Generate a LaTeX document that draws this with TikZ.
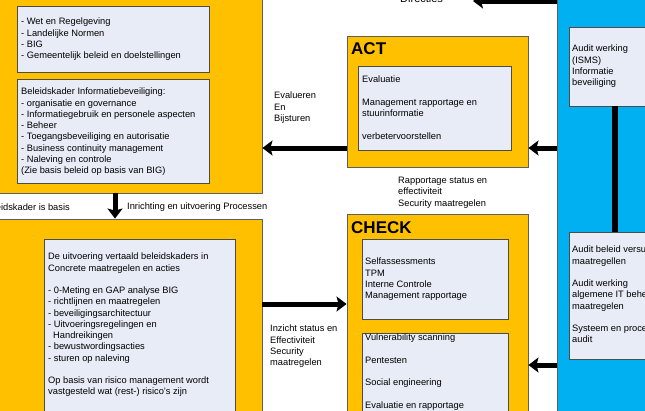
\documentclass[tikz,border=0pt]{standalone}
\usepackage{fontspec}
\setmainfont{Liberation Sans}
\usetikzlibrary{arrows.meta,fit}
\definecolor{orng}{RGB}{255,192,0}
\definecolor{skyb}{RGB}{0,176,240}
\definecolor{pale}{RGB}{231,236,246}
\definecolor{edge}{RGB}{95,95,95}
\begin{document}
\begin{tikzpicture}[x=1pt,y=-1pt,
  outerbox/.style={draw=edge, fill=orng, line width=0.9pt, inner sep=0pt},
  bluebox/.style={draw=edge, fill=skyb, line width=0.9pt, inner sep=0pt},
  inbox/.style={draw=edge!80!black, fill=pale, line width=0.9pt, inner sep=0pt},
  txt/.style={anchor=north west, align=left, inner sep=0pt, font=\fontsize{9.3}{11.25}\selectfont},
  lbl/.style={inner sep=0pt, font=\fontsize{9.3}{11.25}\selectfont},
  ttl/.style={anchor=base west, inner sep=0pt, font=\bfseries\fontsize{17}{20}\selectfont},
  bigarrow/.style={line width=5pt, -{Stealth[length=10pt,width=15pt,inset=2pt]}}
]
\useasboundingbox (0,0) rectangle (645,410);
\clip (0,0) rectangle (645,410);

% outer boxes
\node[outerbox, fit={(-5,-5) (262,193)}] (tl) {};
\node[outerbox, fit={(-5,219) (262,420)}] (bl) {};
\node[outerbox, fit={(347,36) (528,167)}] (act) {};
\node[outerbox, fit={(347,214) (528,420)}] (check) {};
\node[bluebox, fit={(557,-5) (660,420)}] (audit) {};

% inner boxes
\node[inbox, fit={(17,6) (209,72)}] (tl1) {};
\node[inbox, fit={(17,79) (209,183)}] (tl2) {};
\node[inbox, fit={(44,239) (235,420)}] (bl1) {};
\node[inbox, fit={(358,66) (511,150)}] (act1) {};
\node[inbox, fit={(362,239) (508,319)}] (chk1) {};
\node[inbox, fit={(362,333) (508,420)}] (chk2) {};
\node[inbox, fit={(569,27) (660,106)}] (au1) {};
\node[inbox, fit={(569,232) (660,359)}] (au2) {};

% titles
\node[ttl] (acttitle) at (351,54) {ACT};
\node[ttl] (checktitle) at (351,233) {CHECK};

% box texts
\node[txt] (t1) at (21,18) {- Wet en Regelgeving\\- Landelijke Normen\\- BIG\\- Gemeentelijk beleid en doelstellingen};
\node[txt] (t2) at (21,88) {Beleidskader Informatiebeveiliging:\\- organisatie en governance\\- Informatiegebruik en personele aspecten\\- Beheer\\- Toegangsbeveiliging en autorisatie\\- Business continuity management\\- Naleving en controle\\(Zie basis beleid op basis van BIG)};
\node[txt] (t3) at (48,253) {De uitvoering vertaald beleidskaders in\\Concrete maatregelen en acties\\\mbox{}\\- 0-Meting en GAP analyse BIG\\- richtlijnen en maatregelen\\- beveiligingsarchitectuur\\- Uitvoeringsregelingen en\\\hspace*{5pt}Handreikingen\\- bewustwordingsacties\\- sturen op naleving\\\mbox{}\\Op basis van risico management wordt\\vastgesteld wat (rest-) risico's zijn};
\node[txt] (t4) at (362,76) {Evaluatie\\\mbox{}\\Management rapportage en\\stuurinformatie\\\mbox{}\\verbetervoorstellen};
\node[txt] (t5) at (365,258) {Selfassessments\\TPM\\Interne Controle\\Management rapportage};
\node[txt] (t6) at (365,334) {Vulnerability scanning\\\mbox{}\\Pentesten\\\mbox{}\\Social engineering\\\mbox{}\\Evaluatie en rapportage};
\node[txt] (t7) at (572,45) {Audit werking\\(ISMS)\\Informatie\\beveiliging};
\node[txt] (t8) at (572,246) {Audit beleid versus\\maatregellen\\\mbox{}\\Audit werking\\algemene IT beheer\\maatregelen\\\mbox{}\\Systeem en proces\\audit};

% connector labels
\node[txt] (l1) at (274,92) {Evalueren\\En\\Bijsturen};
\node[txt] (l2) at (398,177) {Rapportage status en\\effectiviteit\\Security maatregelen};
\node[txt] (l3) at (270,325) {Inzicht status en\\Effectiviteit\\Security\\maatregelen};
\node[lbl, anchor=base east] (l4) at (70,210) {Beleidskader is basis};
\node[lbl, anchor=base west] (l5) at (127,209) {Inrichting en uitvoering Processen};
\node[lbl, anchor=base west, font=\fontsize{11}{13}\selectfont] (l6) at (400,2) {Directies};

% connectors
\draw[bigarrow] (act.west |- 0,148) -- (tl.east |- 0,148);
\draw[bigarrow] (audit.west |- 0,148) -- (act.east |- 0,148);
\draw[bigarrow] (audit.west |- 0,365) -- (check.east |- 0,365);
\draw[bigarrow] (bl.east |- 0,304) -- (check.west |- 0,304);
\draw[bigarrow] (tl.south -| 115,0) -- (bl.north -| 115,0);
\coordinate (dirtip) at (473,1);
\draw[bigarrow] (audit.west |- 0,1) -- (dirtip);
\draw[line width=6pt] (au1.south -| 615,0) -- (au2.north -| 615,0);
\end{tikzpicture}
\end{document}
